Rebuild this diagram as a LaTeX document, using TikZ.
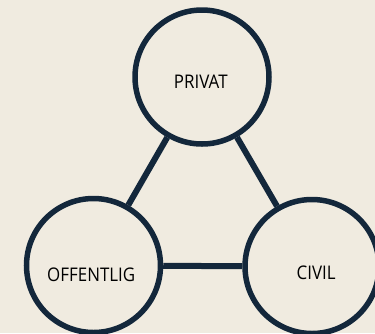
\documentclass[tikz,border=0pt]{standalone}
\usepackage{fontspec}
\setmainfont{Open Sans}
\definecolor{bg}{HTML}{F0EBE0}
\definecolor{navy}{HTML}{13273B}
\tikzset{
  sector/.style={circle, draw=navy, line width=5.5pt, minimum size=134pt, inner sep=0pt},
  lbl/.style={anchor=base, inner sep=0pt, text=black, font=\fontsize{18.8}{20}\selectfont, xscale=0.9},
  link/.style={draw=navy, line width=6pt}
}
\begin{document}
\begin{tikzpicture}[x=1pt,y=-1pt]
\fill[bg] (0,0) rectangle (375,333);
\useasboundingbox (0,0) rectangle (375,333);
\clip (0,0) rectangle (375,333);
\node[sector] (p) at (202,77) {};
\node[sector] (o) at (93.5,265.5) {};
\node[sector] (c) at (312,266.5) {};
\node[lbl] (pt) at (200.8,88) {PRIVAT};
\node[lbl] (ot) at (91.2,281.7) {OFFENTLIG};
\node[lbl] (ct) at (316.2,279.3) {CIVIL};
\draw[link] (p) -- (o);
\draw[link] (p) -- (c);
\draw[link] (o) -- (c);
\end{tikzpicture}
\end{document}
